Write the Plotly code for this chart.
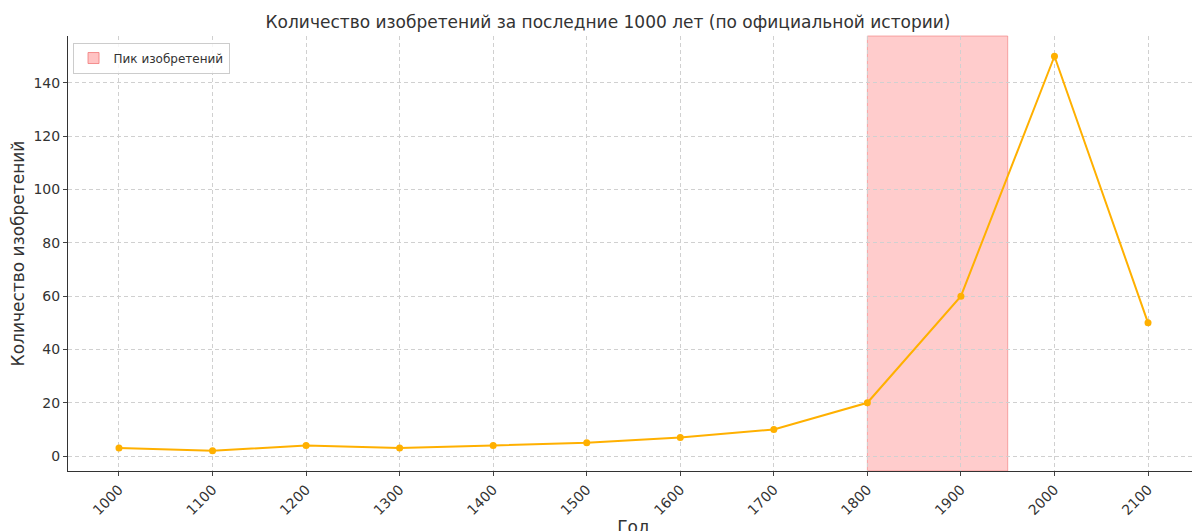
import plotly.graph_objects as go

years = [1000, 1100, 1200, 1300, 1400, 1500, 1600, 1700, 1800, 1900, 2000, 2100]
inventions = [3, 2, 4, 3, 4, 5, 7, 10, 20, 60, 150, 50]
peak_start, peak_end = 1800, 1950

fig = go.Figure()

# shaded peak region (legend entry via dummy trace)
fig.add_vrect(x0=peak_start, x1=peak_end, fillcolor="rgba(255,153,153,0.5)",
              line=dict(color="rgba(240,120,120,0.6)", width=1), layer="below")
fig.add_trace(go.Scatter(x=[None], y=[None], mode="markers", name="Пик изобретений",
                         marker=dict(symbol="square", size=11, color="rgba(255,170,170,0.7)",
                                     line=dict(color="rgba(240,120,120,0.8)", width=1))))

fig.add_trace(go.Scatter(x=years, y=inventions, mode="lines+markers", showlegend=False,
                         line=dict(color="#FFB000", width=2),
                         marker=dict(color="#FFB000", size=7)))

fig.update_layout(
    width=1200, height=531,
    paper_bgcolor="white", plot_bgcolor="white",
    font=dict(family="DejaVu Sans", size=14, color="#333"),
    title=dict(text="Количество изобретений за последние 1000 лет (по официальной истории)",
               x=0.5, y=0.985, yanchor="top", xanchor="center", font=dict(size=17)),
    margin=dict(l=60, r=9, t=28, b=68, autoexpand=False),
    legend=dict(x=0.004, y=0.985, xanchor="left", yanchor="top",
                bgcolor="rgba(255,255,255,0.8)", bordercolor="#ccc", borderwidth=1,
                font=dict(size=12), itemwidth=30, tracegroupgap=0),
)
fig.update_xaxes(range=[945.5, 2154.5], tickvals=years, tickangle=-45, automargin=False,
                 title=dict(text="Год", standoff=4),
                 showgrid=True, gridcolor="#d0d0d0", griddash="4px,3px", gridwidth=0.8,
                 showline=True, linecolor="#333", ticks="outside", ticklen=4,
                 zeroline=False)
fig.update_yaxes(range=[-5.6, 157.6], tickvals=[0, 20, 40, 60, 80, 100, 120, 140],
                 automargin=False, title=dict(text="Количество изобретений", standoff=6),
                 showgrid=True, gridcolor="#d0d0d0", griddash="4px,3px", gridwidth=0.8,
                 showline=True, linecolor="#333", ticks="outside", ticklen=4,
                 zeroline=False)

fig.write_html("out.html")
